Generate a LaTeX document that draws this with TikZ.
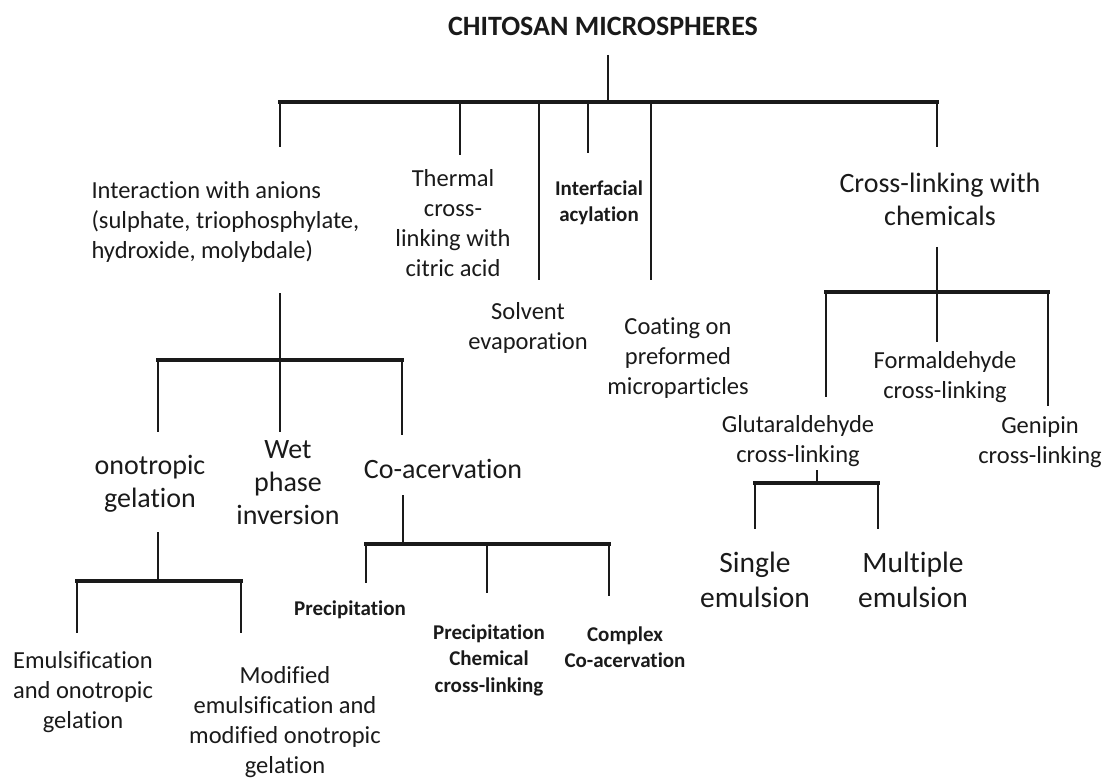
\documentclass[tikz,border=0pt]{standalone}
\usepackage{fontspec}
\setmainfont{Carlito}[Ligatures={NoCommon}]
\usepackage{tikz}
\usetikzlibrary{calc}
\definecolor{ink}{HTML}{1A1A1A}

\begin{document}
\begin{tikzpicture}[
    x=1pt, y=-1pt,
    ttl/.style={text=ink, font=\fontsize{28}{33}\selectfont\bfseries},
    med/.style={text=ink, align=center, font=\fontsize{24.5}{30}\selectfont},
    lrg/.style={text=ink, align=center, font=\fontsize{28}{33}\selectfont},
    sml/.style={text=ink, align=center, font=\fontsize{21}{26.5}\selectfont\bfseries},
    vlink/.style={draw=ink, line width=2.5pt},
    hlink/.style={draw=ink, line width=4pt, line cap=rect},
]
\useasboundingbox (0,0) rectangle (1106,778);

% Nodes
\node[ttl] (root) at (603,26) {CHITOSAN MICROSPHERES};
\node[med, align=left, anchor=west] (anions) at (88,222) {Interaction with anions\\(sulphate, triophosphylate,\\hydroxide, molybdale)};
\node[med] (thermal) at (453,223) {Thermal\\cross-\\linking with\\citric acid};
\node[sml] (acyl) at (599,203) {Interfacial\\acylation};
\node[med] (solvent) at (528,328) {Solvent\\evaporation};
\node[med] (coating) at (678,358) {Coating on\\preformed\\microparticles};
\node[lrg] (chem) at (940,199) {Cross-linking with\\chemicals};

\node[lrg] (iono) at (150,484) {onotropic\\gelation};
\node[lrg] (wet) at (288,483) {Wet\\phase\\inversion};
\node[lrg] (coac) at (443,469) {Co-acervation};
\node[med] (emuls) at (83,692) {Emulsification\\and onotropic\\gelation};
\node[med] (modif) at (285,722) {Modified\\emulsification and\\modified onotropic\\gelation};
\node[sml] (precip) at (350,610) {Precipitation};
\node[sml] (precchem) at (489,660) {Precipitation\\Chemical\\cross-linking};
\node[sml] (complex) at (625,647) {Complex\\Co-acervation};

\node[med] (formal) at (945,377) {Formaldehyde\\cross-linking};
\node[med] (glut) at (798,441) {Glutaraldehyde\\cross-linking};
\node[med] (genipin) at (1040,442) {Genipin\\cross-linking};
\node[lrg, font=\fontsize{29.5}{35}\selectfont] (single) at (755,580) {Single\\emulsion};
\node[lrg, font=\fontsize{29.5}{35}\selectfont] (multi) at (913,580) {Multiple\\emulsion};

% Main bracket
\coordinate (root-out) at (608,55);
\coordinate (root-bar) at (608,102);
\coordinate (anions-in) at (280,147);
\coordinate (thermal-in) at (460,155);
\coordinate (solvent-in) at (539,280);
\coordinate (acyl-in) at (588,153);
\coordinate (coating-in) at (651,280);
\coordinate (chem-in) at (937,147);
\draw[vlink] (root-out) -- (root-bar);
\draw[hlink] (anions-in |- root-bar) -- (chem-in |- root-bar);
\foreach \c in {anions,thermal,solvent,acyl,coating,chem}
    \draw[vlink] (\c-in |- root-bar) -- (\c-in);

% Anions bracket
\coordinate (anions-out) at (280,293);
\coordinate (anions-bar) at (280,360);
\coordinate (iono-in) at (158,432);
\coordinate (wet-in) at (280,432);
\coordinate (coac-in) at (402,435);
\draw[vlink] (anions-out) -- (anions-bar);
\draw[hlink] (iono-in |- anions-bar) -- (coac-in |- anions-bar);
\foreach \c in {iono,wet,coac}
    \draw[vlink] (\c-in |- anions-bar) -- (\c-in);

% Ionotropic bracket
\coordinate (iono-out) at (158,532);
\coordinate (iono-bar) at (158,581);
\coordinate (emuls-in) at (77,633);
\coordinate (modif-in) at (241,633);
\draw[vlink] (iono-out) -- (iono-bar);
\draw[hlink] (emuls-in |- iono-bar) -- (modif-in |- iono-bar);
\foreach \c in {emuls,modif}
    \draw[vlink] (\c-in |- iono-bar) -- (\c-in);

% Co-acervation bracket
\coordinate (coac-out) at (403,495);
\coordinate (coac-bar) at (403,544);
\coordinate (precip-in) at (366,583);
\coordinate (precchem-in) at (487,593);
\coordinate (complex-in) at (609,596);
\draw[vlink] (coac-out) -- (coac-bar);
\draw[hlink] (precip-in |- coac-bar) -- (complex-in |- coac-bar);
\foreach \c in {precip,precchem,complex}
    \draw[vlink] (\c-in |- coac-bar) -- (\c-in);

% Chemicals bracket
\coordinate (chem-out) at (937,247);
\coordinate (chem-bar) at (937,292);
\coordinate (glut-in) at (826,397);
\coordinate (formal-in) at (937,342);
\coordinate (genipin-in) at (1048,406);
\draw[vlink] (chem-out) -- (chem-bar);
\draw[hlink] (glut-in |- chem-bar) -- (genipin-in |- chem-bar);
\foreach \c in {glut,formal,genipin}
    \draw[vlink] (\c-in |- chem-bar) -- (\c-in);

% Glutaraldehyde bracket
\coordinate (glut-out) at (817,470);
\coordinate (glut-bar) at (817,483);
\coordinate (single-in) at (755,529);
\coordinate (multi-in) at (878,529);
\draw[vlink] (glut-out) -- (glut-bar);
\draw[hlink] (single-in |- glut-bar) -- (multi-in |- glut-bar);
\foreach \c in {single,multi}
    \draw[vlink] (\c-in |- glut-bar) -- (\c-in);

\end{tikzpicture}
\end{document}
